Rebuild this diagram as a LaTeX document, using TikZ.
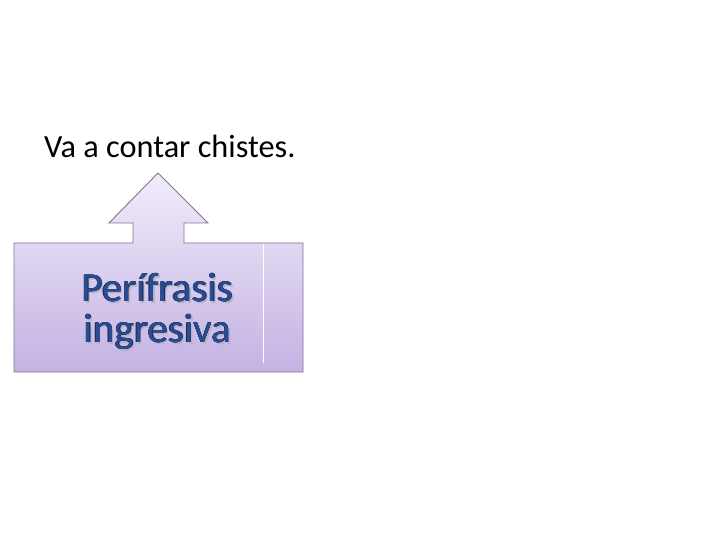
\documentclass[tikz,border=0pt]{standalone}
\usepackage{fontspec}
\setmainfont{Carlito}
\definecolor{shapetop}{HTML}{F1ECFA}
\definecolor{shapebot}{HTML}{C4B2E3}
\definecolor{shapeline}{HTML}{7E7496}
\definecolor{navytext}{HTML}{2A4C92}
\definecolor{navyedge}{HTML}{16285A}
\definecolor{glowcol}{HTML}{B4B4C4}
\tikzset{
  bigfont/.style={font=\fontsize{41bp}{42bp}\selectfont, inner sep=0pt, align=center, anchor=base},
  upshape/.style={draw=shapeline, line width=0.9bp, top color=shapetop, bottom color=shapebot},
  bigtext/.style={bigfont, text=navytext},
  edgetext/.style={bigfont, text=navyedge},
  glowtext/.style={bigfont, text=glowcol},
  plaintext/.style={font=\fontsize{32.3bp}{36bp}\selectfont, text=black, inner sep=0pt}
}
\begin{document}
\begin{tikzpicture}[x=1bp,y=-1bp]
\useasboundingbox[fill=white] (0,0) rectangle (720,540);
% arrow callout shape
\coordinate (tip) at (158,173);
\path[upshape] (14,243) -- (133,243) -- (133,223) -- (109,223) -- (tip) -- (208,223) -- (184,223) -- (184,243) -- (303,243) -- (303,372) -- (14,372) -- cycle;
\draw[white, line width=1bp] (263,244) -- (263,363);
% text: shadow, thin outline, fill
\node[glowtext] (glowA) at (159.3,303.3) {Perífrasis};
\node[glowtext] (glowB) at (159.3,344.3) {ingresiva};
\foreach \dx/\dy in {-0.35/0,0.35/0,0/-0.35,0/0.35} {
  \node[edgetext] at (157.5+\dx,301.5+\dy) {Perífrasis};
  \node[edgetext] at (157.5+\dx,342.5+\dy) {ingresiva};
}
\node[bigtext] (per) at (157.5,301.5) {Perífrasis};
\node[bigtext] (ing) at (157.5,342.5) {ingresiva};
\node[plaintext, anchor=base west] (va) at (44,157.5) {Va a contar chistes.};
\end{tikzpicture}
\end{document}
